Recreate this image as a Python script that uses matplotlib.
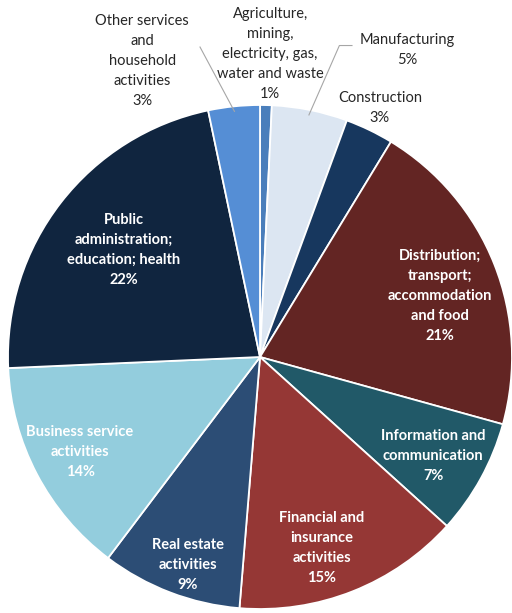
"""Pie of output share by industry group."""
import numpy as np
import matplotlib
matplotlib.use("Agg")
import matplotlib.pyplot as plt

plt.rcParams["font.family"] = ["Lato", "DejaVu Sans"]

sectors = [
    "Agriculture,\nmining,\nelectricity, gas,\nwater and waste",
    "Manufacturing",
    "Construction",
    "Distribution;\ntransport;\naccommodation\nand food",
    "Information and\ncommunication",
    "Financial and\ninsurance\nactivities",
    "Real estate\nactivities",
    "Business service\nactivities",
    "Public\nadministration;\neducation; health",
    "Other services\nand\nhousehold\nactivities",
]
shares = [0.75, 4.85, 3.1, 20.6, 7.4, 14.6, 9.0, 14.0, 22.4, 3.3]
colors = ["#4a7ebb", "#dce6f2", "#17375e", "#632523", "#215968",
          "#953735", "#2c4d75", "#93cddd", "#10253f", "#558ed5"]

# label anchor (x, y) in pie units, white text inside / dark text outside
label_pos = [(0.04, 1.202), (0.583, 1.218), (0.476, 0.988), (0.714, 0.242),
             (0.687, -0.393), (0.246, -0.758), (-0.286, -0.825),
             (-0.714, -0.377), (-0.540, 0.425), (-0.468, 1.175)]
inside = [False, False, False, True, True, True, True, True, True, False]
leader = {1: (0.365, 1.236), 9: (-0.238, 1.230)}

fig = plt.figure(figsize=(5.12, 6.13), dpi=100)
ax = fig.add_axes([0, 0, 1, 1])
wedges, _ = ax.pie(shares, colors=colors, startangle=90, counterclock=False,
                   radius=1.0, wedgeprops=dict(edgecolor="white", linewidth=1.3))

for i, (name, v) in enumerate(zip(sectors, shares)):
    x, y = label_pos[i]
    ax.text(x, y, f"{name}\n{v:.0f}%", ha="center", va="center",
            fontsize=10.5, linespacing=1.55,
            color="white" if inside[i] else "#262626",
            fontweight="bold" if inside[i] else "normal")
    if i in leader:
        w = wedges[i]
        mid = np.deg2rad((w.theta1 + w.theta2) / 2)
        ex, ey = 0.98 * np.cos(mid), 0.98 * np.sin(mid)
        sx, sy = leader[i]
        pts_x = [sx, ex]
        pts_y = [sy, ey]
        if i == 1:
            pts_x = [sx, sx - 0.05, ex]
            pts_y = [sy, sy, ey]
        ax.plot(pts_x, pts_y, color="#a6a6a6", lw=0.8)

ax.set_xlim(-260 / 252, 252 / 252)
ax.set_ylim(-256 / 252, 357 / 252)
ax.set_aspect("equal")
ax.axis("off")
fig.savefig("out.png", dpi=100)
